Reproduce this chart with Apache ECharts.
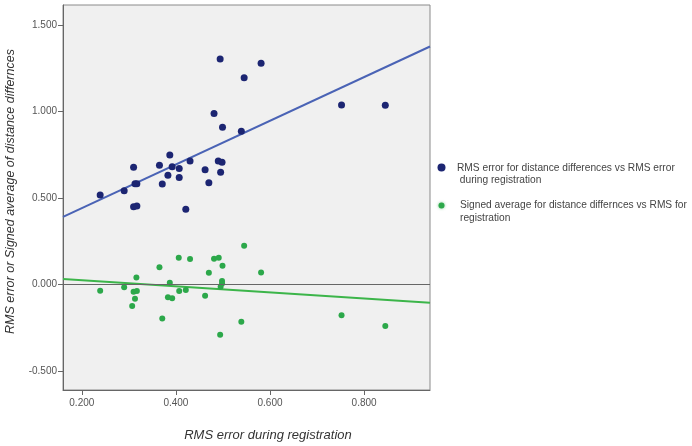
<!DOCTYPE html>
<html><head><meta charset="utf-8">
<script src="https://cdn.jsdelivr.net/npm/echarts@6/dist/echarts.min.js"></script>
<style>html,body{margin:0;padding:0;background:#fff}#c{width:692px;height:446px}</style>
</head><body><div id="c"></div>
<script>
const rmsRegBlue = [0.239,0.290,0.310,0.313,0.317,0.310,0.317,0.421,0.365,0.371,0.383,0.387,0.392,0.407,0.407,0.430,0.462,0.470,0.481,0.490,0.494,0.495,0.498,0.499,0.539,0.545,0.581,0.752,0.845];
const rmsDist = [0.516,0.541,0.677,0.582,0.582,0.449,0.453,0.434,0.688,0.580,0.630,0.748,0.680,0.669,0.617,0.713,0.663,0.588,0.987,0.713,1.303,0.648,0.706,0.908,0.885,1.195,1.278,1.037,1.035];
const rmsRegGreen = [0.239,0.290,0.307,0.310,0.313,0.317,0.316,0.365,0.371,0.383,0.387,0.392,0.406,0.407,0.421,0.430,0.462,0.470,0.481,0.491,0.494,0.495,0.498,0.498,0.499,0.539,0.545,0.581,0.752,0.845];
const signedAvg = [-0.037,-0.017,-0.126,-0.043,-0.083,-0.039,0.040,0.098,-0.197,-0.075,0.009,-0.081,0.154,-0.039,-0.033,0.146,-0.066,0.067,0.148,0.154,-0.291,-0.014,0.019,0.005,0.108,-0.216,0.223,0.069,-0.179,-0.241];
const fitX = [0.16, 0.94];
const blueFitY = [0.390, 1.375];
const greenFitY = [0.031, -0.107];
const xTicks = [0.2, 0.4, 0.6, 0.8];
const yTicks = [-0.5, 0, 0.5, 1.0, 1.5];
const legendNames = ['RMS error for distance differences vs RMS error', ' during registration', 'Signed average for distance differnces vs RMS for', 'registration'];
const xName = 'RMS error during registration';
const yName = 'RMS error or Signed average of distance differnces';

const zip = (a, b) => a.map((v, i) => [v, b[i]]);
const chart = echarts.init(document.getElementById('c'));
const font = '"Liberation Sans", Arial, sans-serif';
chart.setOption({
  animation: false,
  backgroundColor: '#fff',
  grid: { left: 63, right: 262, top: 5, bottom: 56, outerBoundsMode: 'none', containLabel: false, show: true, backgroundColor: '#f0f0f0', borderColor: '#8a8a8a', borderWidth: 1 },
  xAxis: {
    type: 'value', min: 0.16, max: 0.94,
    name: xName, nameLocation: 'middle', nameGap: 39,
    nameTextStyle: { fontStyle: 'italic', fontSize: 13, color: '#333', fontFamily: font, padding: [0, 0, 0, 43] },
    axisLine: { show: true, onZero: false, lineStyle: { color: '#666' } },
    axisTick: { show: true, length: 5, customValues: xTicks, lineStyle: { color: '#666' } },
    axisLabel: { customValues: xTicks, fontSize: 10, color: '#555', fontFamily: font, margin: 8, formatter: v => v.toFixed(3) },
    splitLine: { show: false }
  },
  yAxis: {
    type: 'value', min: -0.611, max: 1.615,
    name: yName, nameLocation: 'middle', nameGap: 46, nameRotate: 90,
    nameTextStyle: { fontStyle: 'italic', fontSize: 12.5, color: '#333', fontFamily: font, padding: [0, 0, 0, 12] },
    axisLine: { show: true, onZero: false, lineStyle: { color: '#666' } },
    axisTick: { show: true, length: 5, customValues: yTicks, lineStyle: { color: '#666' } },
    axisLabel: { customValues: yTicks, fontSize: 10, color: '#555', fontFamily: font, margin: 6, formatter: v => v.toFixed(3) },
    splitLine: { show: false }
  },
  series: [
    { type: 'line', data: zip(fitX, greenFitY), showSymbol: false, lineStyle: { color: '#3cb54a', width: 2 }, z: 3,
      markLine: { silent: true, symbol: 'none', label: { show: false }, lineStyle: { color: '#666', width: 1.2, type: 'solid' }, data: [{ yAxis: 0 }] } },
    { type: 'line', data: zip(fitX, blueFitY), showSymbol: false, lineStyle: { color: '#4a63b5', width: 2 }, z: 3 },
    { type: 'scatter', data: zip(rmsRegGreen, signedAvg), symbolSize: 6, itemStyle: { color: '#2ca84a', opacity: 1 }, z: 4 },
    { type: 'scatter', data: zip(rmsRegBlue, rmsDist), symbolSize: 7, itemStyle: { color: '#1c2572', opacity: 1 }, z: 4 }
  ],
  graphic: [
    { type: 'circle', shape: { cx: 441.5, cy: 167.5, r: 4 }, style: { fill: '#1c2572' } },
    { type: 'text', x: 457, y: 168, style: { text: legendNames[0], fontSize: 10.2, fill: '#444', fontFamily: font, verticalAlign: 'middle' } },
    { type: 'text', x: 457, y: 180, style: { text: legendNames[1], fontSize: 10.2, fill: '#444', fontFamily: font, verticalAlign: 'middle' } },
    { type: 'circle', shape: { cx: 441.5, cy: 205.5, r: 3 }, style: { fill: '#2ca84a', shadowColor: 'rgba(44,168,74,0.6)', shadowBlur: 3 } },
    { type: 'text', x: 460, y: 205, style: { text: legendNames[2], fontSize: 10.2, fill: '#444', fontFamily: font, verticalAlign: 'middle' } },
    { type: 'text', x: 460, y: 218, style: { text: legendNames[3], fontSize: 10.2, fill: '#444', fontFamily: font, verticalAlign: 'middle' } }
  ]
});
</script></body></html>
